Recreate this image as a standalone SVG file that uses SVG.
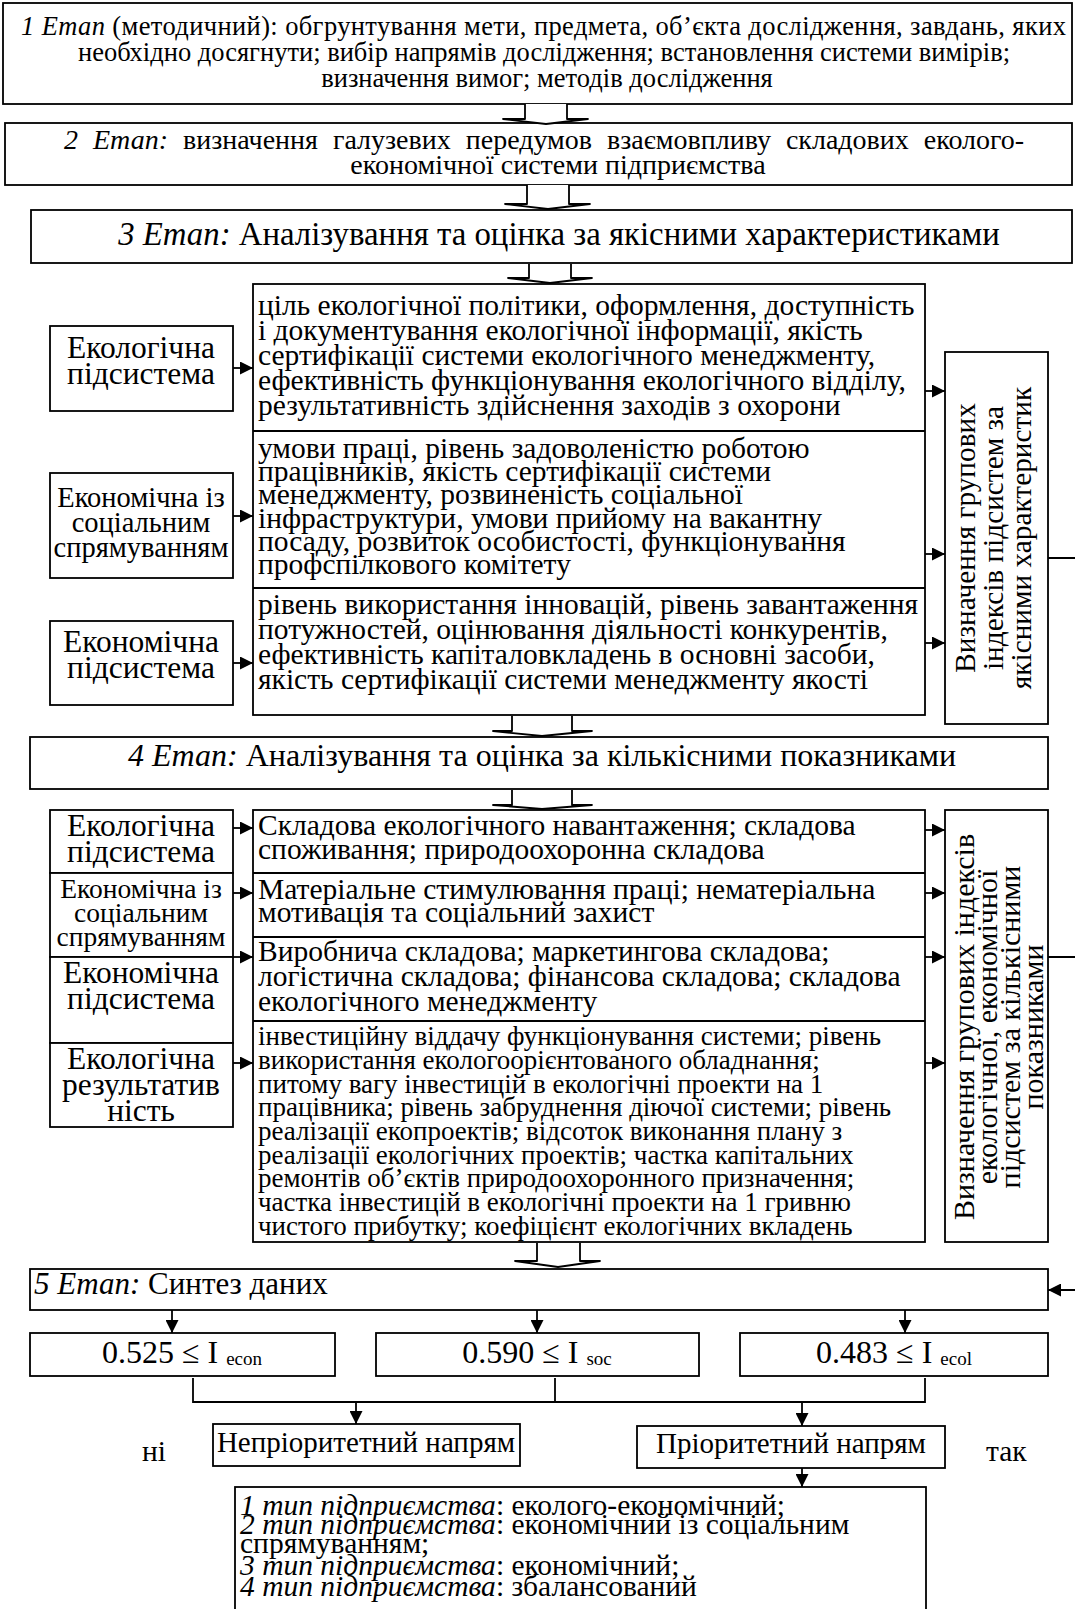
<svg xmlns="http://www.w3.org/2000/svg" width="1075" height="1609" viewBox="0 0 1075 1609">
<defs>
<marker id="ah" viewBox="0 0 10 10" refX="10" refY="5" markerWidth="14" markerHeight="13" markerUnits="userSpaceOnUse" orient="auto"><path d="M0,0 L10,5 L0,10 z" fill="#000"/></marker>
<style>
.b{fill:#fff;stroke:#000;stroke-width:1.8}
.d{stroke:#000;stroke-width:2;fill:none}
.c{stroke:#000;stroke-width:1.8;fill:none}
.h{fill:#fff;stroke:#000;stroke-width:1.8;stroke-linejoin:round}
.t{font-family:"Liberation Serif","Times New Roman",serif;fill:#000}
.i{font-style:italic}
.s27{font-size:27px}
.s29{font-size:29.5px}
.s32{font-size:32px}
.sb{font-size:31.5px}
.m{text-anchor:middle}
</style>
</defs>
<rect width="1075" height="1609" fill="#fff"/>

<g id="stage1">
<rect class="b" x="3" y="3" width="1069" height="101"/>
<text class="t" font-size="26.5px"><tspan x="21" y="35" textLength="1045" lengthAdjust="spacing"><tspan class="i">1 Етап</tspan> (методичний): обгрунтування мети, предмета, об’єкта дослідження, завдань, яких</tspan><tspan x="544" y="61" text-anchor="middle">необхідно досягнути; вибір напрямів дослідження; встановлення системи вимірів;</tspan><tspan x="547" y="87" text-anchor="middle">визначення вимог; методів дослідження</tspan></text>
</g>

<g id="stage2">
<rect class="b" x="5" y="123" width="1067" height="62"/>
<text class="t" font-size="28px"><tspan x="64" y="149" style="word-spacing:8px"><tspan class="i">2 Етап:</tspan> визначення галузевих передумов взаємовпливу складових еколого-</tspan><tspan x="558" y="174" text-anchor="middle">економічної системи підприємства</tspan></text>
</g>

<g id="stage3">
<rect class="b" x="31" y="210" width="1041" height="53"/>
<text class="t m" font-size="32.8px" x="559" y="245"><tspan class="i">3 Етап:</tspan> Аналізування та оцінка за якісними характеристиками</text>
</g>

<g id="q-ecol">
<rect class="b" x="50" y="326" width="183" height="85"/>
<text class="t sb m"><tspan x="141" y="358">Екологічна</tspan><tspan x="141" y="384">підсистема</tspan></text>
</g>
<g id="q-soc">
<rect class="b" x="50" y="473" width="183" height="105"/>
<text class="t m" font-size="28.5px"><tspan x="141" y="507">Економічна із</tspan><tspan x="141" y="532">соціальним</tspan><tspan x="141" y="557">спрямуванням</tspan></text>
</g>
<g id="q-econ">
<rect class="b" x="50" y="621" width="183" height="84"/>
<text class="t sb m"><tspan x="141" y="652">Економічна</tspan><tspan x="141" y="678">підсистема</tspan></text>
</g>

<g id="q-content">
<rect class="b" x="253" y="284" width="672" height="431"/>
<line class="d" x1="253" y1="431" x2="925" y2="431"/>
<line class="d" x1="253" y1="588" x2="925" y2="588"/>
<text class="t s29"><tspan x="258" y="315">ціль екологічної політики, оформлення, доступність</tspan><tspan x="258" y="340">і  документування екологічної інформації, якість</tspan><tspan x="258" y="365">сертифікації системи екологічного менеджменту,</tspan><tspan x="258" y="390">ефективність функціонування екологічного відділу,</tspan><tspan x="258" y="415">результативність здійснення заходів з охорони</tspan></text>
<text class="t s29"><tspan x="258" y="458">умови праці, рівень задоволеністю роботою</tspan><tspan x="258" y="481">працівників, якість сертифікації системи</tspan><tspan x="258" y="504">менеджменту, розвиненість соціальної</tspan><tspan x="258" y="528">інфраструктури, умови прийому на вакантну</tspan><tspan x="258" y="551">посаду, розвиток особистості, функціонування</tspan><tspan x="258" y="574">профспілкового комітету</tspan></text>
<text class="t s29"><tspan x="258" y="614">рівень використання інновацій, рівень завантаження</tspan><tspan x="258" y="639">потужностей, оцінювання діяльності конкурентів,</tspan><tspan x="258" y="664">ефективність капіталовкладень в основні засоби,</tspan><tspan x="258" y="689">якість сертифікації системи менеджменту якості</tspan></text>
</g>

<g id="q-index">
<rect class="b" x="945" y="352" width="103" height="372"/>
<text class="t m" font-size="29.3px" transform="rotate(-90)"><tspan x="-538" y="975">Визначення групових</tspan><tspan x="-538" y="1003">індексів підсистем за</tspan><tspan x="-538" y="1031">якісними характеристик</tspan></text>
</g>

<g id="stage4">
<rect class="b" x="30" y="737" width="1018" height="52"/>
<text class="t s32 m" x="542" y="766"><tspan class="i">4 Етап:</tspan> Аналізування та оцінка за кількісними показниками</text>
</g>

<g id="n-ecol">
<rect class="b" x="50" y="810" width="183" height="63"/>
<text class="t sb m"><tspan x="141" y="836">Екологічна</tspan><tspan x="141" y="862">підсистема</tspan></text>
</g>
<g id="n-soc">
<rect class="b" x="50" y="873" width="183" height="84"/>
<text class="t m" font-size="27.5px"><tspan x="141" y="898">Економічна із</tspan><tspan x="141" y="922">соціальним</tspan><tspan x="141" y="946">спрямуванням</tspan></text>
</g>
<g id="n-econ">
<rect class="b" x="50" y="957" width="183" height="86"/>
<text class="t sb m"><tspan x="141" y="983">Економічна</tspan><tspan x="141" y="1009">підсистема</tspan></text>
</g>
<g id="n-res">
<rect class="b" x="50" y="1043" width="183" height="84"/>
<text class="t sb m"><tspan x="141" y="1069">Екологічна</tspan><tspan x="141" y="1095">результатив</tspan><tspan x="141" y="1121">ність</tspan></text>
</g>

<g id="n-content">
<rect class="b" x="253" y="810" width="672" height="432"/>
<line class="d" x1="253" y1="873" x2="925" y2="873"/>
<line class="d" x1="253" y1="937" x2="925" y2="937"/>
<line class="d" x1="253" y1="1021" x2="925" y2="1021"/>
<text class="t s29"><tspan x="258" y="835">Складова екологічного навантаження; складова</tspan><tspan x="258" y="859">споживання; природоохоронна складова</tspan></text>
<text class="t s29"><tspan x="258" y="899">Матеріальне стимулювання праці; нематеріальна</tspan><tspan x="258" y="922">мотивація та соціальний захист</tspan></text>
<text class="t s29"><tspan x="258" y="961">Виробнича складова; маркетингова складова;</tspan><tspan x="258" y="986">логістична складова; фінансова складова; складова</tspan><tspan x="258" y="1011">екологічного менеджменту</tspan></text>
<text class="t s27"><tspan x="258" y="1045">інвестиційну віддачу функціонування системи; рівень</tspan><tspan x="258" y="1069">використання екологоорієнтованого   обладнання;</tspan><tspan x="258" y="1093">питому вагу інвестицій в екологічні проекти на 1</tspan><tspan x="258" y="1116">працівника; рівень забруднення діючої системи; рівень</tspan><tspan x="258" y="1140">реалізації екопроектів; відсоток виконання плану з</tspan><tspan x="258" y="1164">реалізації екологічних проектів; частка капітальних</tspan><tspan x="258" y="1187">ремонтів об’єктів природоохоронного призначення;</tspan><tspan x="258" y="1211">частка інвестицій в екологічні проекти на 1 гривню</tspan><tspan x="258" y="1235">чистого прибутку; коефіцієнт екологічних вкладень</tspan></text>
</g>

<g id="n-index">
<rect class="b" x="945" y="810" width="103" height="432"/>
<text class="t m" font-size="30px" transform="rotate(-90)"><tspan x="-1027" y="974">Визначення групових індексів</tspan><tspan x="-1027" y="997">екологічної, економічної</tspan><tspan x="-1027" y="1020">підсистем за кількісними</tspan><tspan x="-1027" y="1043">показниками</tspan></text>
</g>

<g id="stage5">
<rect class="b" x="30" y="1269" width="1018" height="41"/>
<text class="t" font-size="31px" x="34" y="1294"><tspan class="i">5 Етап:</tspan> Синтез даних</text>
</g>

<g id="f-econ">
<rect class="b" x="30" y="1333" width="305" height="43"/>
<text class="t s32 m" x="182" y="1363">0.525 ≤ I <tspan font-size="19px" dy="2">econ</tspan></text>
</g>
<g id="f-soc">
<rect class="b" x="376" y="1333" width="323" height="43"/>
<text class="t s32 m" x="537" y="1363">0.590 ≤ I <tspan font-size="19px" dy="2">soc</tspan></text>
</g>
<g id="f-ecol">
<rect class="b" x="740" y="1333" width="308" height="43"/>
<text class="t s32 m" x="894" y="1363">0.483 ≤ I <tspan font-size="19px" dy="2">ecol</tspan></text>
</g>

<g id="nonpriority">
<rect class="b" x="213" y="1424" width="307" height="42"/>
<text class="t m" font-size="29px" x="366" y="1452">Непріоритетний напрям</text>
</g>
<g id="priority">
<rect class="b" x="637" y="1426" width="308" height="42"/>
<text class="t m" font-size="29px" x="791" y="1453">Пріоритетний напрям</text>
</g>
<text class="t" font-size="29.5px" x="142" y="1461">ні</text>
<text class="t" font-size="29.5px" x="986" y="1461">так</text>

<g id="types">
<rect class="b" x="235" y="1487" width="691" height="140"/>
<text class="t s29"><tspan x="240" y="1515"><tspan class="i">1 тип підприємства</tspan>: еколого-економічний;</tspan><tspan x="240" y="1534"><tspan class="i">2 тип підприємства</tspan>: економічний із соціальним</tspan><tspan x="240" y="1553">спрямуванням;</tspan><tspan x="240" y="1575"><tspan class="i">3 тип підприємства</tspan>: економічний;</tspan><tspan x="240" y="1596"><tspan class="i">4 тип підприємства</tspan>: збалансований</tspan></text>
</g>

<g id="connectors">
<path class="h" d="M525,104 V119 H503 L546,124 L588,119 H567 V104"/>
<path class="h" d="M527,185 V204 H505 L548,209 L590,204 H569 V185"/>
<path class="h" d="M529,264 V278 H508 L550,283 L592,278 H571 V264"/>
<path class="h" d="M512,716 V731 H493 L542,736 L592,731 H572 V716"/>
<path class="h" d="M512,790 V805 H493 L542,809 L592,805 H572 V790"/>
<path class="h" d="M537,1243 V1261 H515 L558,1267 L600,1261 H580 V1243"/>

<path class="c" d="M233,368 H253" marker-end="url(#ah)"/>
<path class="c" d="M233,516 H253" marker-end="url(#ah)"/>
<path class="c" d="M233,663 H253" marker-end="url(#ah)"/>
<path class="c" d="M925,391 H945" marker-end="url(#ah)"/>
<path class="c" d="M925,554 H945" marker-end="url(#ah)"/>
<path class="c" d="M925,643 H945" marker-end="url(#ah)"/>

<path class="c" d="M233,828 H253" marker-end="url(#ah)"/>
<path class="c" d="M233,893 H253" marker-end="url(#ah)"/>
<path class="c" d="M233,957 H253" marker-end="url(#ah)"/>
<path class="c" d="M233,1063 H253" marker-end="url(#ah)"/>
<path class="c" d="M925,830 H945" marker-end="url(#ah)"/>
<path class="c" d="M925,893 H945" marker-end="url(#ah)"/>
<path class="c" d="M925,957 H945" marker-end="url(#ah)"/>
<path class="c" d="M925,1063 H945" marker-end="url(#ah)"/>

<path class="c" d="M1048,558 H1090 V1290 H1048" marker-end="url(#ah)"/>
<path class="c" d="M1048,957 H1090"/>

<path class="c" d="M172,1310 V1333" marker-end="url(#ah)"/>
<path class="c" d="M537,1310 V1333" marker-end="url(#ah)"/>
<path class="c" d="M905,1310 V1333" marker-end="url(#ah)"/>

<path class="c" d="M193,1378 V1402 H925 V1378"/>
<path class="c" d="M555,1378 V1402"/>
<path class="c" d="M356,1402 V1424" marker-end="url(#ah)"/>
<path class="c" d="M802,1402 V1426" marker-end="url(#ah)"/>
<path class="c" d="M802,1468 V1487" marker-end="url(#ah)"/>
</g>
</svg>
